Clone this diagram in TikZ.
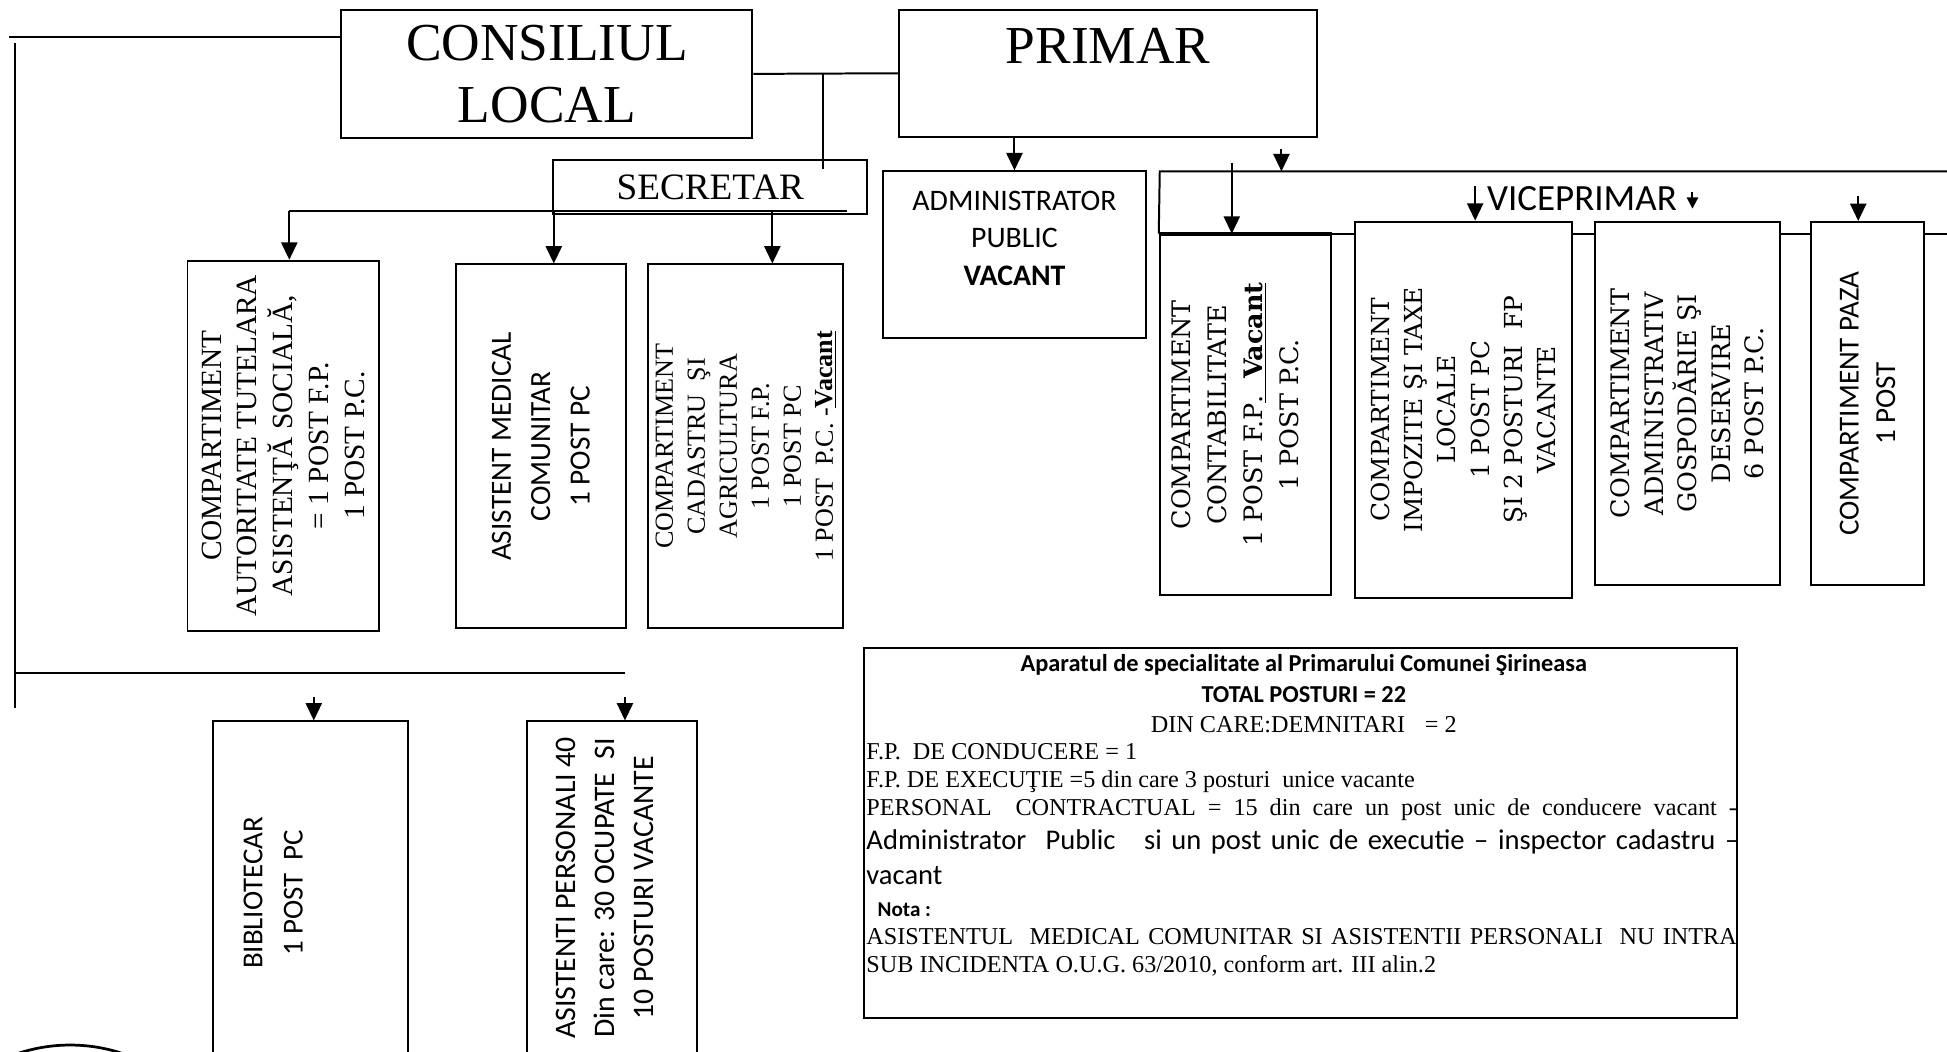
\documentclass[tikz,border=0pt]{standalone}
\usepackage{fontspec}
\setmainfont{Liberation Serif}
\newfontfamily\calibri{Carlito}
\newfontfamily\century{DejaVu Serif}
\usetikzlibrary{arrows.meta,calc}

\newcommand{\fs}[2]{\fontsize{#1}{#2}\selectfont}

\begin{document}
\begin{tikzpicture}[x=1pt,y=-1pt,line width=1.6pt,
  box/.style={draw,fill=white,inner sep=0pt,align=center},
  vtxt/.style={rotate=90,align=center,inner sep=0pt},
  ltxt/.style={inner sep=0pt},
  arr/.style={-{Triangle[length=14pt,width=13pt]}},
  sarr/.style={-{Triangle[length=9pt,width=9pt]}}]

\useasboundingbox (0,0) rectangle (1568,847);
\clip (0,0) rectangle (1568,847);

% conducere
\node[box,minimum width=331pt,minimum height=103pt,font=\fs{43}{50}] (consiliul) at (440.5,59.5) {CONSILIUL\\LOCAL};
\node[box,minimum width=337pt,minimum height=102pt] (primar) at (892.5,59) {};
\node[ltxt,font=\fs{43}{50}] (primar-t) at (892.5,37) {PRIMAR};
\node[box,minimum width=253pt,minimum height=43pt,font=\fs{30}{36}] (secretar) at (572,150.5) {SECRETAR};
\node[box,minimum width=212pt,minimum height=134pt] (admpublic) at (817,205) {};
\node[ltxt,font=\calibri\fs{24}{30},align=center] (admpublic-t) at (817,192) {ADMINISTRATOR\\PUBLIC\\\textbf{VACANT}};

% compartimente secretar
\node[box,minimum width=154pt,minimum height=298pt] (autoritate) at (228,359) {};
\node[vtxt,font=\fs{23.6}{28.8}] (autoritate-t) at (autoritate) {COMPARTIMENT\\AUTORITATE TUTELARA\\ASISTENŢĂ SOCIALĂ,\\= 1 POST F.P.\\1 POST P.C.};
\node[box,minimum width=137pt,minimum height=293pt] (asistent) at (435.5,359.5) {};
\node[vtxt,font=\calibri\fs{23.6}{31.7}] (asistent-t) at (asistent) {ASISTENT MEDICAL\\COMUNITAR\\1 POST PC};
\node[box,minimum width=157pt,minimum height=293pt] (cadastru) at (600.5,359.5) {};
\node[vtxt,font=\fs{21}{25.8}] (cadastru-t) at (cadastru) {COMPARTIMENT\\CADASTRU\ \ ŞI\\AGRICULTURA\\1 POST F.P.\\1 POST PC\\1 POST\ \ P.C. -\underline{\textbf{Vacant}}};

% compartimente viceprimar
\node[box,minimum width=138pt,minimum height=290pt] (contab) at (1003,334) {};
\node[vtxt,font=\century\fs{20.5}{29}] (contab-t) at ([xshift=-8pt]contab.center) {COMPARTIMENT\\CONTABILITATE\\1 POST F.P\underline{.\ \ \textbf{Vacant}}\\1 POST P.C.};
\node[box,minimum width=175pt,minimum height=303pt] (impozite) at (1178.5,330) {};
\node[vtxt,font=\century\fs{20}{26.8}] (impozite-t) at (impozite) {COMPARTIMENT\\IMPOZITE ŞI TAXE\\LOCALE\\1 POST PC\\ŞI 2 POSTURI\ \ FP\\VACANTE};
\node[box,minimum width=149.5pt,minimum height=292.5pt] (gospod) at (1359,325) {};
\node[vtxt,font=\century\fs{20.5}{27}] (gospod-t) at (gospod) {COMPARTIMENT\\ADMINISTRATIV\\GOSPODĂRIE ŞI\\DESERVIRE\\6 POST P.C.};
\node[box,minimum width=91pt,minimum height=292.5pt] (paza) at (1504,325) {};
\node[vtxt,font=\calibri\fs{23.4}{29.5}] (paza-t) at (paza) {COMPARTIMENT PAZA\\1 POST};
\node[ltxt,font=\calibri\fs{29.8}{34}] (viceprimar) at (1274,160) {VICEPRIMAR};

% jos
\node[box,minimum width=156.5pt,minimum height=300pt] (bibliotecar) at (250,731) {};
\node[vtxt,font=\calibri\fs{23.3}{32.4}] (bibliotecar-t) at (220,719) {BIBLIOTECAR\\1 POST\ \ PC};
\node[box,minimum width=136.5pt,minimum height=300pt] (asistpers) at (493,731) {};
\node[vtxt,font=\calibri\fs{24}{31.5}] (asistpers-t) at (487,715) {ASISTENTI PERSONALI 40\\Din care: 30 OCUPATE\ \ SI\\10 POSTURI VACANTE};

% aparatul de specialitate
\node[box,minimum width=703pt,minimum height=297.5pt] (sumar) at (1047.5,670.75) {};
\node[ltxt,anchor=base,font=\calibri\bfseries\fs{19.6}{23}] (s1) at (1050,541) {Aparatul de specialitate al Primarului Comunei Şirineasa};
\node[ltxt,anchor=base,font=\calibri\bfseries\fs{19.6}{23}] (s2) at (1050,566) {TOTAL POSTURI = 22};
\node[ltxt,anchor=base,font=\fs{19.5}{23}] (s3) at (1050,589.5) {DIN CARE:DEMNITARI\hspace{16pt}= 2};
\node[ltxt,anchor=base west,font=\fs{19.5}{23}] (s4) at (697,611.5) {F.P.\ \ DE CONDUCERE = 1};
\node[ltxt,anchor=base west,font=\fs{19.5}{23}] (s5) at (697,634.5) {F.P. DE EXECUŢIE =5 din care 3 posturi\ \ unice vacante};
\node[ltxt,anchor=base west,font=\fs{19.5}{23}] (s6) at (697,657) {\makebox[701pt][s]{PERSONAL\ \ CONTRACTUAL = 15 din care un post unic de conducere vacant -}};
\node[ltxt,anchor=base west,font=\calibri\fs{23}{28}] (s7) at (697,684) {\makebox[703pt][s]{Administrator\ \ Public\ \ \ si un post unic de executie – inspector cadastru –}};
\node[ltxt,anchor=base west,font=\calibri\fs{23}{28}] (s8) at (697,712) {vacant};
\node[ltxt,anchor=base west,font=\calibri\bfseries\fs{17}{20}] (s9) at (706,738) {Nota :};
\node[ltxt,anchor=base west,font=\fs{19.5}{23}] (s10) at (697,761) {\makebox[701pt][s]{ASISTENTUL\ \ MEDICAL COMUNITAR SI ASISTENTII PERSONALI\ \ NU INTRA}};
\node[ltxt,anchor=base west,font=\fs{19.5}{23}] (s11) at (697,783) {SUB INCIDENTA O.U.G. 63/2010, conform art. III alin.2};

% legaturi
\coordinate (cl-top) at (7,30);
\coordinate (cl-v1) at (12,35);
\coordinate (cl-v2) at (12,570);
\coordinate (cl-h) at (12,542);
\coordinate (cl-he) at (503,542);
\coordinate (j-sec) at (663,59.5);
\coordinate (sb-l) at (233,170);
\coordinate (sb-m) at (446,170);
\coordinate (sb-r) at (622,170);
\coordinate (sb-e) at (682,170);
\coordinate (vp-in) at (1032,138);
\coordinate (vf-l) at (934,138);
\coordinate (vf-r) at (1575,138);
\coordinate (va-c) at (992,131);
\coordinate (va-i) at (1188,150);
\coordinate (va-t) at (1363,155);
\coordinate (va-te) at (1363,168);
\coordinate (va-p) at (1496.5,158);
\coordinate (b-b) at (252.7,561);
\coordinate (b-a) at (503.3,561);

\draw (consiliul.west |- cl-top) -- (cl-top);
\draw (cl-v1) -- (cl-v2);
\draw (cl-h) -- (cl-he);
\draw (consiliul.east) -- (primar.west);
\draw (j-sec) -- ($(j-sec |- secretar.north)+(0,8)$);

\draw (sb-l) -- (sb-e);
\draw[arr] (sb-l) -- (sb-l |- autoritate.north);
\draw[arr] (sb-m) -- (sb-m |- asistent.north);
\draw[arr] (sb-r) -- (sb-r |- cadastru.north);

\draw[arr] (primar.south -| admpublic.north) -- (admpublic.north);
\draw[arr,shorten <=9pt] (vp-in |- primar.south) -- (vp-in);
\draw (contab.north west) -- (vf-l) -- (vf-r);
\draw[line width=2.6pt] (contab.north west) -- (contab.north east);
\draw (contab.north east) -- (contab.north east -| impozite.west)
      (impozite.east |- contab.north) -- (gospod.west |- contab.north)
      (gospod.east |- contab.north) -- (paza.west |- contab.north)
      (paza.east |- contab.north) -- (vf-r |- contab.north);
\draw[arr] (va-c) -- (va-c |- contab.north);
\draw[arr] (va-i) -- (va-i |- impozite.north);
\draw[sarr] (va-t) -- (va-te);
\draw[arr] (va-p) -- (va-p |- paza.north);

\draw[arr] (b-b) -- (b-b |- bibliotecar.north);
\draw[arr] (b-a) -- (b-a |- asistpers.north);

% stampila
\draw[line width=2.2pt] (56.5,974.6) circle (133pt);

\end{tikzpicture}
\end{document}
